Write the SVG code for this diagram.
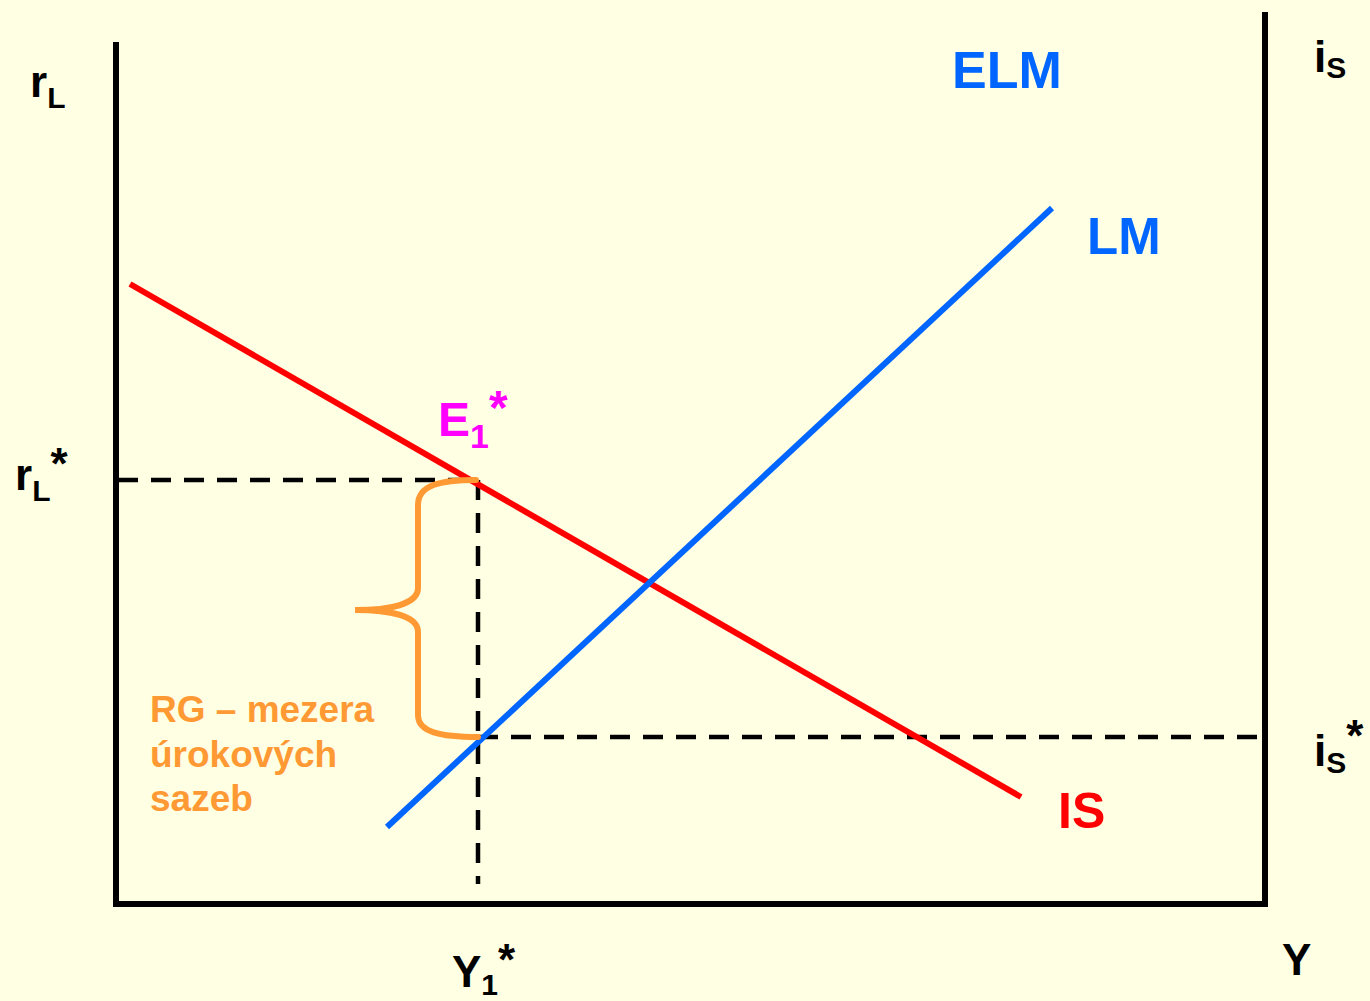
<svg xmlns="http://www.w3.org/2000/svg" width="1370" height="1001" viewBox="0 0 1370 1001">
<style>
text{font-family:"Liberation Sans",Arial,sans-serif;font-weight:bold}
.ax{stroke:#000;stroke-width:6;fill:none}
.dash{stroke:#000;stroke-width:4.5;stroke-dasharray:20 13;fill:none}
.lbl{fill:#000;font-size:44px}
.sub{font-size:30px}
</style>
<rect width="1370" height="1001" fill="#FFFFE3"/>
<g id="axes">
<path class="ax" d="M116,42 V905 M113,904 H1268 M1265,12 V905"/>
</g>
<g id="connectors">
<path class="dash" d="M118,480 H478 M478,480 V884 M478,737 H1262"/>
<line id="IS-curve" x1="130" y1="284" x2="1021" y2="797" stroke="#FF0000" stroke-width="6"/>
<line id="LM-curve" x1="387" y1="827" x2="1052" y2="208" stroke="#0066FF" stroke-width="6"/>
<path id="brace" d="M476,480 C440,480 418,485 418,505 V588 C418,604 390,610 355,610 C390,610 418,616 418,632 V715 C418,732 440,737 478,737" stroke="#FF9933" stroke-width="6" fill="none" stroke-linecap="round"/>
</g>
<g id="label-rL"><text class="lbl" x="30" y="97">r<tspan class="sub" dy="11">L</tspan></text></g>
<g id="label-rLstar"><text class="lbl" x="15" y="490">r<tspan class="sub" dy="11">L</tspan><tspan dy="-22">*</tspan></text></g>
<g id="label-iS"><text class="lbl" x="1314" y="72">i<tspan class="sub" dy="6">S</tspan></text></g>
<g id="label-iSstar"><text class="lbl" x="1314" y="766">i<tspan class="sub" dy="7">S</tspan><tspan dy="-22">*</tspan></text></g>
<g id="label-Y1star"><text class="lbl" x="452" y="987">Y<tspan class="sub" dy="8">1</tspan><tspan dy="-20">*</tspan></text></g>
<g id="label-Y"><text class="lbl" x="1282" y="975">Y</text></g>
<g id="label-ELM"><text x="952" y="88" fill="#0066FF" font-size="52">ELM</text></g>
<g id="label-LM"><text x="1087" y="254" fill="#0066FF" font-size="51">LM</text></g>
<g id="label-IS"><text x="1058" y="828" fill="#FF0000" font-size="50">IS</text></g>
<g id="label-E1"><text x="438" y="436" fill="#FF00FF" font-size="48">E<tspan font-size="34" dy="12">1</tspan><tspan dy="-24">*</tspan></text></g>
<g id="label-RG" font-size="37">
<text x="150" y="722" fill="#FF9933">RG – mezera</text>
<text x="150" y="767" fill="#FF9933">úrokových</text>
<text x="150" y="811" fill="#FF9933">sazeb</text>
</g>
</svg>
